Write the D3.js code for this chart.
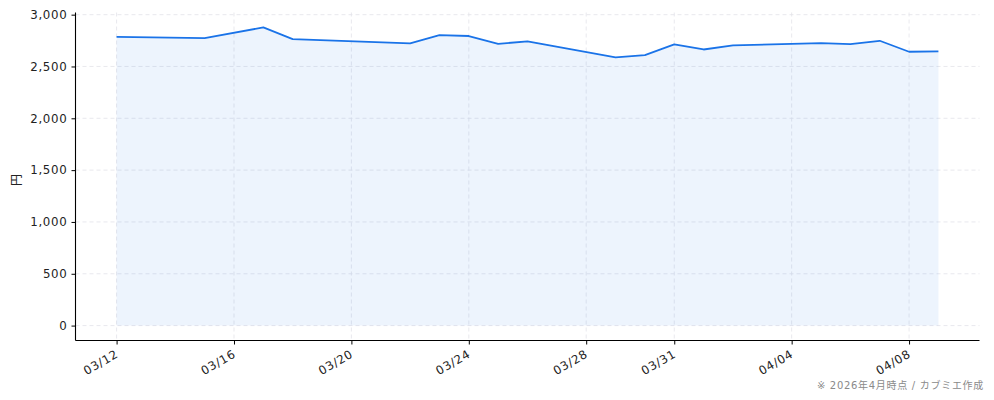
<!DOCTYPE html>
<html><head><meta charset="utf-8">
<script src="https://cdn.jsdelivr.net/npm/d3@7"></script>
<style>body{margin:0;background:#fff}svg text{font-family:"DejaVu Sans","Noto Sans CJK JP",sans-serif}</style>
</head><body><svg id="c" width="994" height="400"></svg>
<script>
const dates = ["2026-03-12","2026-03-15","2026-03-17","2026-03-18","2026-03-22","2026-03-23","2026-03-24","2026-03-25","2026-03-26","2026-03-29","2026-03-30","2026-03-31","2026-04-01","2026-04-02","2026-04-05","2026-04-06","2026-04-07","2026-04-08","2026-04-09"];
const prices = [2786,2774,2877,2764,2722,2803,2794,2719,2742,2587,2610,2714,2664,2703,2726,2716,2748,2642,2645];
const xTickDates = ["2026-03-12","2026-03-16","2026-03-20","2026-03-24","2026-03-28","2026-03-31","2026-04-04","2026-04-08"];
const yTicks = [0,500,1000,1500,2000,2500,3000];

const parse = d3.utcParse("%Y-%m-%d");
const data = dates.map((d,i)=>({t:parse(d), v:prices[i]}));
const svg = d3.select("#c");
const L=75.5, R=979.5, T=12.5, B=340.5;
const t0 = data[0].t.getTime(), t1 = data[data.length-1].t.getTime();
const pad = (t1-t0)*0.05;
const x = d3.scaleUtc().domain([new Date(t0-pad), new Date(t1+pad)]).range([L,R]);
const vmax = d3.max(prices), ypad = vmax*0.05;
const y = d3.scaleLinear().domain([-ypad, vmax+ypad]).range([B,T]);

const grid = svg.append("g");
yTicks.forEach(v=>grid.append("line").attr("x1",L).attr("x2",R).attr("y1",y(v)).attr("y2",y(v))
  .attr("stroke","#e3e3ea").attr("stroke-dasharray","4,3").attr("stroke-width",0.8));
xTickDates.forEach(d=>grid.append("line").attr("x1",x(parse(d))).attr("x2",x(parse(d))).attr("y1",T).attr("y2",B)
  .attr("stroke","#e3e3ea").attr("stroke-dasharray","4,3").attr("stroke-width",0.8));

svg.append("path").datum(data).attr("fill","#1a73e8").attr("fill-opacity",0.08)
  .attr("d",d3.area().x(d=>x(d.t)).y0(y(0)).y1(d=>y(d.v)));
svg.append("path").datum(data).attr("fill","none").attr("stroke","#1a73e8").attr("stroke-width",1.8)
  .attr("stroke-linejoin","round")
  .attr("d",d3.line().x(d=>x(d.t)).y(d=>y(d.v)));

const ya = svg.append("g").attr("transform",`translate(${L},0)`)
  .call(d3.axisLeft(y).tickValues(yTicks).tickFormat(d3.format(",")).tickSize(4).tickPadding(4));
const xa = svg.append("g").attr("transform",`translate(0,${B})`)
  .call(d3.axisBottom(x).tickValues(xTickDates.map(parse)).tickFormat(d3.utcFormat("%m/%d")).tickSize(4).tickPadding(4));
[ya,xa].forEach(a=>{a.select(".domain").attr("stroke","#000").attr("stroke-width",1.1);
  a.selectAll(".tick line").attr("stroke","#000");
  a.selectAll("text").attr("font-size",11.8).attr("letter-spacing",0.7).attr("fill","#222");});
xa.select(".domain").attr("d",`M${L},0H${R}`);
ya.select(".domain").attr("d",`M0,${T}V${B}`);
xa.selectAll(".tick text").attr("text-anchor","end").attr("dy",0)
  .attr("transform","translate(-2,9) rotate(-30)").attr("y",8);

svg.append("text").attr("transform","translate(21,180) rotate(-90)").attr("text-anchor","middle")
  .attr("font-size",12).attr("fill","#222").text("円");
svg.append("text").attr("x",984).attr("y",389).attr("text-anchor","end").attr("font-size",10)
  .attr("letter-spacing",0.7).attr("fill","#8a8a8a").text("※ 2026年4月時点 / カブミエ作成");
</script></body></html>
